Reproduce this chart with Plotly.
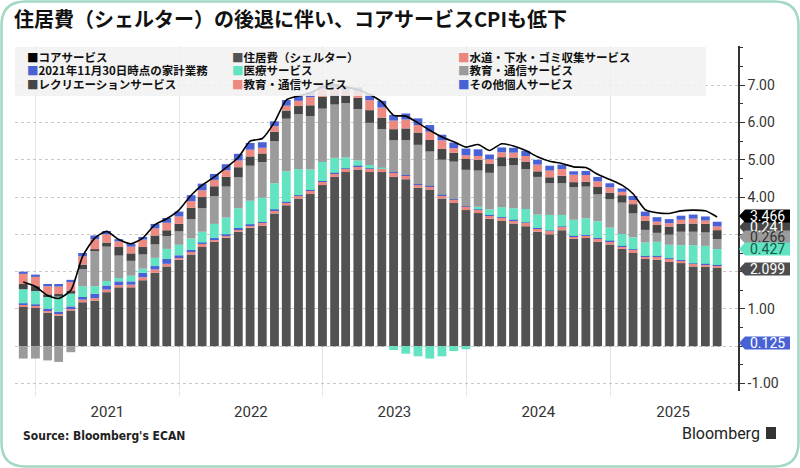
import pandas as pd
import plotly.graph_objects as go

# ---------------- data ----------------
DATES = pd.date_range("2020-11-30", periods=59, freq=pd.offsets.MonthEnd())

NAME_CORE = "コアサービス"
NAME_SHELTER = "住居費（シェルター）"
NAME_WATER = "水道・下水・ゴミ収集サービス"
NAME_HOUSEHOLD = "2021年11月30日時点の家計業務"
NAME_MEDICAL = "医療サービス"
NAME_TRANSPORT = "教育・通信サービス"
NAME_RECREATION = "レクリエーションサービス"
NAME_EDUCATION = "教育・通信サービス"
NAME_OTHER = "その他個人サービス"

CORE = [1.72, 1.60, 1.36, 1.28, 1.50, 2.41, 2.90, 3.08, 2.86, 2.75, 2.90, 3.26,
        3.42, 3.65, 4.05, 4.32, 4.54, 4.79, 5.06, 5.50, 5.57, 6.01, 6.60, 6.71,
        6.79, 6.95, 7.00, 6.95, 6.88, 6.75, 6.55, 6.19, 6.17, 5.99, 5.79, 5.61,
        5.48, 5.34, 5.41, 5.25, 5.43, 5.37, 5.25, 5.08, 4.96, 4.90, 4.81, 4.79,
        4.61, 4.47, 4.32, 4.09, 3.66, 3.58, 3.56, 3.63, 3.65, 3.63, 3.466]
SHELTER = [1.07, 1.03, 0.90, 0.82, 0.96, 1.18, 1.22, 1.45, 1.58, 1.58, 1.77, 1.97,
           2.14, 2.32, 2.46, 2.66, 2.80, 2.91, 3.07, 3.18, 3.23, 3.56, 3.78, 3.96,
           4.08, 4.32, 4.54, 4.67, 4.74, 4.67, 4.67, 4.54, 4.48, 4.25, 4.20, 3.96,
           3.84, 3.65, 3.57, 3.42, 3.36, 3.29, 3.22, 3.07, 3.00, 3.11, 2.88, 2.90,
           2.80, 2.73, 2.61, 2.50, 2.34, 2.32, 2.26, 2.23, 2.14, 2.13, 2.099]
WATER = [0.05, 0.05, 0.06, 0.06, 0.06, 0.07, 0.07, 0.07, 0.06, 0.07, 0.08, 0.09,
         0.07, 0.07, 0.09, 0.09, 0.07, 0.06, 0.07, 0.06, 0.08, 0.09, 0.07, 0.07,
         0.09, 0.09, 0.09, 0.09, 0.09, 0.09, 0.09, 0.12, 0.10, 0.09, 0.09, 0.09,
         0.09, 0.09, 0.09, 0.09, 0.09, 0.09, 0.09, 0.09, 0.09, 0.09, 0.07, 0.07,
         0.09, 0.09, 0.07, 0.09, 0.07, 0.09, 0.09, 0.07, 0.07, 0.07, 0.07]
HOUSEHOLD = [0.03, 0.04, 0.05, 0.05, 0.05, 0.07, 0.12, 0.11, 0.10, 0.09, 0.12, 0.09,
             0.13, 0.05, 0.03, 0.03, 0.03, 0.03, 0.03, 0.03, 0.02, 0.02, 0.02, 0.02,
             0.02, 0.02, 0.02, 0.01, 0.01, 0.01, 0.01, 0.01, 0.01, 0.01, 0.01, 0.01,
             0.01, 0.01, 0.01, 0.01, 0.01, 0.01, 0.01, 0.01, 0.01, 0.01, 0.01, 0.01,
             0.01, 0.01, 0.01, 0.01, 0.01, 0.01, 0.01, 0.01, 0.01, 0.01, 0.01]
MEDICAL = [0.38, 0.36, 0.31, 0.40, 0.34, 0.29, 0.20, 0.12, 0.09, 0.15, 0.11, 0.22,
           0.27, 0.28, 0.31, 0.29, 0.38, 0.45, 0.53, 0.63, 0.65, 0.70, 0.82, 0.70,
           0.55, 0.51, 0.40, 0.29, 0.14, 0.09, 0.02, -0.10, -0.20, -0.27, -0.33, -0.27,
           -0.13, -0.08, 0.07, 0.15, 0.27, 0.31, 0.36, 0.36, 0.42, 0.31, 0.43, 0.45,
           0.45, 0.35, 0.32, 0.32, 0.36, 0.38, 0.36, 0.40, 0.49, 0.48, 0.427]
TRANSPORT = [-0.33, -0.33, -0.38, -0.42, -0.16, 0.46, 0.97, 0.92, 0.60, 0.40, 0.38, 0.36,
             0.34, 0.36, 0.52, 0.63, 0.74, 0.83, 0.83, 0.94, 0.96, 1.13, 1.41, 1.47,
             1.43, 1.43, 1.43, 1.46, 1.38, 1.13, 1.03, 0.85, 0.94, 1.05, 0.92, 0.94,
             1.01, 0.98, 0.97, 0.98, 1.09, 1.16, 1.07, 1.01, 0.85, 0.85, 0.88, 0.85,
             0.72, 0.76, 0.84, 0.64, 0.34, 0.24, 0.27, 0.36, 0.36, 0.36, 0.266]
RECREATION = [0.14, 0.13, 0.07, 0.07, 0.07, 0.12, 0.02, 0.11, 0.23, 0.20, 0.20, 0.24,
              0.16, 0.20, 0.30, 0.30, 0.27, 0.26, 0.27, 0.25, 0.23, 0.25, 0.22, 0.22,
              0.29, 0.32, 0.27, 0.22, 0.30, 0.34, 0.31, 0.30, 0.31, 0.33, 0.31, 0.29,
              0.24, 0.29, 0.29, 0.25, 0.25, 0.20, 0.20, 0.15, 0.16, 0.20, 0.13, 0.13,
              0.20, 0.18, 0.20, 0.25, 0.24, 0.21, 0.22, 0.21, 0.22, 0.23, 0.241]
EDUCATION = [0.27, 0.25, 0.22, 0.20, 0.24, 0.22, 0.27, 0.22, 0.15, 0.18, 0.20, 0.19,
             0.20, 0.20, 0.18, 0.18, 0.17, 0.18, 0.18, 0.18, 0.15, 0.15, 0.13, 0.14,
             0.22, 0.20, 0.18, 0.13, 0.18, 0.27, 0.27, 0.23, 0.24, 0.20, 0.22, 0.23,
             0.12, 0.10, 0.10, 0.11, 0.13, 0.13, 0.15, 0.18, 0.18, 0.18, 0.20, 0.18,
             0.15, 0.14, 0.09, 0.11, 0.13, 0.09, 0.09, 0.11, 0.13, 0.09, 0.10]
OTHER = [0.06, 0.06, 0.06, 0.07, 0.06, 0.09, 0.10, 0.09, 0.06, 0.07, 0.07, 0.12,
         0.13, 0.13, 0.16, 0.18, 0.16, 0.16, 0.18, 0.18, 0.15, 0.13, 0.15, 0.13,
         0.13, 0.10, 0.10, 0.10, 0.10, 0.16, 0.18, 0.15, 0.16, 0.18, 0.18, 0.15,
         0.15, 0.18, 0.18, 0.13, 0.13, 0.13, 0.14, 0.13, 0.13, 0.12, 0.09, 0.11,
         0.12, 0.11, 0.09, 0.11, 0.12, 0.12, 0.11, 0.11, 0.11, 0.11, 0.125]

YEAR_LABELS = ["2021", "2022", "2023", "2024", "2025"]
YEAR_LABEL_POS = ["2021-07-02", "2022-07-02", "2023-07-02", "2024-07-02", "2025-06-10"]
YEAR_BOUNDS = ["2021-01-01", "2022-01-01", "2023-01-01", "2024-01-01", "2025-01-01"]

Y_TICKS = [-1, 0, 1, 2, 3, 4, 5, 6, 7]
# labels hidden under the value tags in the reference (0, 2, 3)
Y_TICKTEXT = ["-1.00", "", "1.00", "", "", "4.00", "5.00", "6.00", "7.00"]

TITLE = "住居費（シェルター）の後退に伴い、コアサービスCPIも低下"
SOURCE = "Source: Bloomberg's ECAN"

# ---------------- styling ----------------
W, H = 800, 468
L, R, T, B = 15, 738, 46, 391
CJK = "Noto Sans CJK JP"
NUMF = "Liberation Sans Narrow, Roboto, Liberation Sans, sans-serif"

C_CORE = "#000000"
C_SHELTER = "#525252"
C_WATER = "#ea867e"
C_HOUSEHOLD = "#4862d6"
C_MEDICAL = "#62e4c2"
C_TRANSPORT = "#9b9b9b"
C_RECREATION = "#464646"
C_EDUCATION = "#ec8a82"
C_OTHER = "#4862d6"


def px_x(px):
    return (px - L) / (R - L)


def px_y(py):
    return (B - py) / (B - T)


def path_px(cmds):
    out = []
    for c, pts in cmds:
        s = c
        for (a, b) in pts:
            s += f" {px_x(a):.5f},{px_y(b):.5f}"
        out.append(s)
    return " ".join(out) + " Z"


fig = go.Figure()

stack = [
    (NAME_SHELTER, SHELTER, C_SHELTER),
    (NAME_WATER, WATER, C_WATER),
    (NAME_HOUSEHOLD, HOUSEHOLD, C_HOUSEHOLD),
    (NAME_MEDICAL, MEDICAL, C_MEDICAL),
    (NAME_TRANSPORT, TRANSPORT, C_TRANSPORT),
    (NAME_RECREATION, RECREATION, C_RECREATION),
    (NAME_EDUCATION, EDUCATION, C_EDUCATION),
    (NAME_OTHER, OTHER, C_OTHER),
]
for name, vals, col in stack:
    fig.add_trace(go.Bar(x=DATES, y=vals, name=name, marker=dict(color=col, line=dict(width=0)),
                         showlegend=False))

fig.add_trace(go.Scatter(x=DATES, y=CORE, name=NAME_CORE, mode="lines",
                         line=dict(color=C_CORE, width=1.6, shape="spline", smoothing=0.6),
                         showlegend=False))

shapes = []
# legend background (semi transparent, washes bars)
shapes.append(dict(type="rect", xref="paper", yref="paper", layer="above",
                   x0=px_x(15), x1=px_x(706), y0=px_y(96), y1=px_y(47),
                   fillcolor="rgba(241,241,241,0.86)", line=dict(width=0)))

# card border
r = 24
x0b, y0b, x1b, y1b = 1.5, 1.5, 798.5, 466.5
shapes.append(dict(type="path", xref="paper", yref="paper", layer="above",
                   path=path_px([("M", [(x0b + r, y0b)]), ("L", [(x1b - r, y0b)]),
                                 ("Q", [(x1b, y0b), (x1b, y0b + r)]), ("L", [(x1b, y1b - r)]),
                                 ("Q", [(x1b, y1b), (x1b - r, y1b)]), ("L", [(x0b + r, y1b)]),
                                 ("Q", [(x0b, y1b), (x0b, y1b - r)]), ("L", [(x0b, y0b + r)]),
                                 ("Q", [(x0b, y0b), (x0b + r, y0b)])]),
                   line=dict(color="#a2d8c4", width=2.5), fillcolor="rgba(0,0,0,0)"))

annotations = []
# custom legend (row-major, 3 columns)
legend_items = [
    (NAME_CORE, C_CORE), (NAME_SHELTER, C_SHELTER), (NAME_WATER, C_WATER),
    (NAME_HOUSEHOLD, C_HOUSEHOLD), (NAME_MEDICAL, C_MEDICAL), (NAME_TRANSPORT, C_TRANSPORT),
    (NAME_RECREATION, C_RECREATION), (NAME_EDUCATION, C_EDUCATION), (NAME_OTHER, C_OTHER),
]
col_x = [25, 230, 456]
row_y = [57, 70.5, 84]
for i, (name, col) in enumerate(legend_items):
    cx = col_x[i % 3]
    ry = row_y[i // 3]
    annotations.append(dict(xref="paper", yref="paper", x=px_x(cx), y=px_y(ry),
                            xanchor="left", yanchor="middle", showarrow=False,
                            text=f"<span style='color:{col}'>■</span><b>{name}</b>",
                            font=dict(family=CJK, size=11.5, color="#111111")))

# right-side value tags for the latest values
tags = [
    (RECREATION[-1], 227, "#474747", "#ffffff"),
    (TRANSPORT[-1], 237, "#9b9b9b", "#333333"),
    (MEDICAL[-1], 249, "#62e4c2", "#155a48"),
    (CORE[-1], 216, "#000000", "#ffffff"),
    (SHELTER[-1], 269, "#4d4d4d", "#ffffff"),
    (OTHER[-1], 343, "#4862d6", "#ffffff"),
]
for val, yc, bg, fg in tags:
    hh = 6.5
    shapes.append(dict(type="path", xref="paper", yref="paper", layer="above",
                       path=path_px([("M", [(739, yc)]), ("L", [(745, yc - hh)]),
                                     ("L", [(790, yc - hh)]), ("L", [(790, yc + hh)]),
                                     ("L", [(745, yc + hh)])]),
                       fillcolor=bg, line=dict(width=0)))
    annotations.append(dict(xref="paper", yref="paper", x=px_x(767), y=px_y(yc),
                            xanchor="center", yanchor="middle", showarrow=False,
                            text=f"{val:.3f}", font=dict(family=NUMF, size=14, color=fg)))

annotations.append(dict(xref="paper", yref="paper", x=px_x(21), y=px_y(436),
                        xanchor="left", yanchor="middle", showarrow=False,
                        text=f"<b>{SOURCE}</b>",
                        font=dict(family="DejaVu Sans Condensed, DejaVu Sans, sans-serif",
                                  size=12, color="#222222")))
annotations.append(dict(xref="paper", yref="paper", x=px_x(762), y=px_y(433),
                        xanchor="right", yanchor="middle", showarrow=False,
                        text="Bloomberg",
                        font=dict(family=NUMF, size=16, color="#222222")))
shapes.append(dict(type="rect", xref="paper", yref="paper", layer="above",
                   x0=px_x(766), x1=px_x(776), y0=px_y(439), y1=px_y(427),
                   fillcolor="#333333", line=dict(width=0)))

fig.update_layout(
    width=W, height=H,
    margin=dict(l=L, r=W - R, t=T, b=H - B),
    paper_bgcolor="#ffffff", plot_bgcolor="#ffffff",
    barmode="relative", bargap=0.2,
    title=dict(text=f"<b>{TITLE}</b>", xref="container", yref="container",
               x=14 / W, y=1 - 20 / H, xanchor="left", yanchor="middle",
               font=dict(family=CJK, size=20, color="#111111")),
    shapes=shapes, annotations=annotations,
    xaxis=dict(type="date", range=["2020-11-09", "2025-11-22"],
               tickmode="array", tickvals=YEAR_LABEL_POS, ticktext=YEAR_LABELS,
               ticks="", showgrid=False, zeroline=False, showline=False,
               tickfont=dict(family=NUMF, size=15, color="#333333"),
               ticklabelstandoff=10,
               minor=dict(tickmode="array", tickvals=YEAR_BOUNDS, showgrid=True,
                          gridcolor="#e4e4e4", gridwidth=1, ticks="outside",
                          ticklen=4, tickcolor="#e4e4e4")),
    yaxis=dict(side="right", range=[-1.2, 8.05], tickmode="array",
               tickvals=Y_TICKS, ticktext=Y_TICKTEXT,
               ticks="outside", ticklen=5, tickcolor="#333333", tickwidth=1,
               showline=True, linecolor="#333333", linewidth=1.5,
               showgrid=True, gridcolor="#c8c8c8", griddash="dot", gridwidth=1,
               zeroline=False,
               tickfont=dict(family=NUMF, size=14, color="#333333"),
               minor=dict(dtick=0.5, ticks="outside", ticklen=3, tickcolor="#333333",
                          showgrid=False)),
)

fig.write_html("out.html")
